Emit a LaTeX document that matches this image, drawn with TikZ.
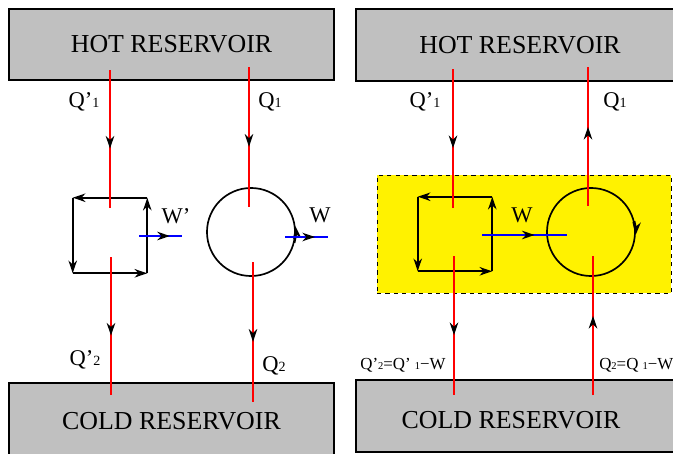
\documentclass[tikz,border=0pt]{standalone}
\usepackage{fontspec}
\setmainfont{Liberation Serif}
\usetikzlibrary{arrows.meta, decorations.markings}
\definecolor{resgris}{RGB}{192,192,192}
\newcommand\qsub[1]{{\fontsize{10}{10}\selectfont #1}}
\newcommand\qsubsmall[1]{{\fontsize{7.5}{7.5}\selectfont #1}}

\begin{document}
\begin{tikzpicture}[x=0.025cm, y=-0.025cm,
  reservoir/.style={draw, fill=resgris, line width=0.8pt, inner sep=0pt, font=\fontsize{18.4}{20}\selectfont},
  heat/.style={red, line width=1.5pt, postaction={decorate},
    decoration={markings, mark=at position 0.57 with {\arrow[black]{Stealth[length=9pt, width=6pt, inset=2.8pt]}}}},
  work/.style={blue, line width=1.5pt, postaction={decorate},
    decoration={markings, mark=at position #1 with {\arrow[black]{Stealth[length=9pt, width=6pt, inset=2.8pt]}}}},
  cyclearrow/.style={-{Stealth[length=9pt, width=6pt, inset=2.8pt]}, line width=1.2pt},
  qlabel/.style={font=\fontsize{16}{18}\selectfont, inner sep=0pt},
  smalllabel/.style={font=\fontsize{12}{13}\selectfont, inner sep=0pt}]
\clip (0,0) rectangle (673,454);

\node[reservoir, minimum width=8.125cm, minimum height=1.775cm] (hotL) at (171.5,44.5) {HOT RESERVOIR};
\node[reservoir, minimum width=8.125cm, minimum height=1.925cm] (coldL) at (171.5,421.5) {COLD RESERVOIR};
\node[reservoir, minimum width=8.2cm, minimum height=1.8cm] (hotR) at (520,45) {HOT RESERVOIR};
\node[reservoir, minimum width=8.35cm, minimum height=1.8cm,
  label={[font=\fontsize{18.4}{20}\selectfont, xshift=-0.3cm, yshift=-0.1cm]center:COLD RESERVOIR}] (coldR) at (523,416) {};

\node[draw, dashed, fill=yellow, line width=0.6pt, minimum width=7.35cm, minimum height=2.95cm] (plant) at (524,234) {};

\node[minimum width=1.85cm, minimum height=1.875cm, inner sep=0pt] (fridgeL) at (110,235.5) {};
\node[minimum width=1.85cm, minimum height=1.85cm, inner sep=0pt] (fridgeR) at (455,234) {};
\node[circle, draw, line width=1.2pt, minimum size=2.2cm, inner sep=0pt] (engineL) at (251,232) {};
\node[circle, draw, line width=1.2pt, minimum size=2.2cm, inner sep=0pt] (engineR) at (591,232) {};

\foreach \f in {fridgeL, fridgeR} {
  \draw[cyclearrow] (\f.north east) -- (\f.north west);
  \draw[cyclearrow] (\f.north west) -- (\f.south west);
  \draw[cyclearrow] (\f.south west) -- (\f.south east);
  \draw[cyclearrow] (\f.south east) -- (\f.north east);
}
\draw[cyclearrow] (engineL.-14) arc[start angle=-14, end angle=8, radius=1.1cm];
\draw[cyclearrow] (engineR.14) arc[start angle=14, end angle=-4, radius=1.1cm];

\coordinate (a1) at (110,70);  \coordinate (a2) at (110,208);
\coordinate (a3) at (111,257); \coordinate (a4) at (111,395);
\coordinate (b1) at (249,67);  \coordinate (b2) at (249,207);
\coordinate (b3) at (253,262); \coordinate (b4) at (253,402);
\coordinate (c1) at (453,69);  \coordinate (c2) at (453,208);
\coordinate (c3) at (454,256); \coordinate (c4) at (454,395);
\coordinate (d1) at (588,206); \coordinate (d2) at (588,67);
\coordinate (d3) at (593,395); \coordinate (d4) at (593,256);
\draw[heat] (a1) -- (a2);
\draw[heat] (a3) -- (a4);
\draw[heat] (b1) -- (b2);
\draw[heat] (b3) -- (b4);
\draw[heat] (c1) -- (c2);
\draw[heat] (c3) -- (c4);
\draw[heat] (d1) -- (d2);
\draw[heat] (d3) -- (d4);

\coordinate (w1) at (139,236); \coordinate (w2) at (182,236);
\coordinate (w3) at (285,237); \coordinate (w4) at (328,237);
\coordinate (w5) at (482,235); \coordinate (w6) at (567,235);
\draw[work=0.72] (w1) -- (w2);
\draw[work=0.70] (w3) -- (w4);
\draw[work=0.62] (w5) -- (w6);

\node[qlabel] (qa) at (84,102) {Q’\qsub{1}};
\node[qlabel] (qb) at (270,102) {Q\qsub{1}};
\node[qlabel] (qc) at (85,360) {Q’\qsub{2}};
\node[qlabel] (qd) at (274,366) {Q\qsub{2}};
\node[qlabel] (qe) at (425,102) {Q’\qsub{1}};
\node[qlabel] (qf) at (615,102) {Q\qsub{1}};
\node[qlabel] (wa) at (176,216) {W’};
\node[qlabel] (wb) at (320,215) {W};
\node[qlabel] (wc) at (522,215) {W};
\node[smalllabel] (qg) at (403,365) {Q’\qsubsmall{2}=Q’ \qsubsmall{1}−W};
\node[smalllabel, anchor=west] (qh) at (599,365) {Q\qsubsmall{2}=Q \qsubsmall{1}−W};
\end{tikzpicture}
\end{document}
